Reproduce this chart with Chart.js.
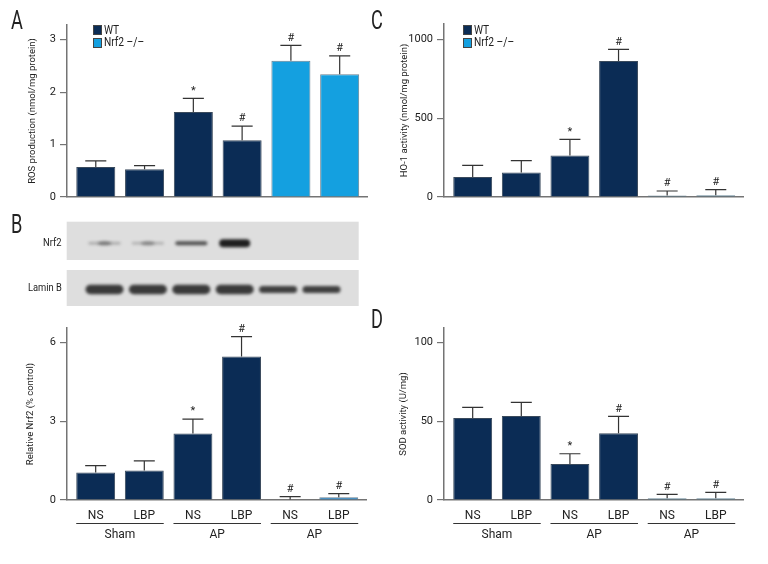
<!DOCTYPE html>
<html><head><meta charset="utf-8">
<script src="https://cdn.jsdelivr.net/npm/chart.js@4/dist/chart.umd.min.js"></script>
<style>
html,body{margin:0;padding:0;background:#fff}
body{width:768px;height:564px;overflow:hidden;position:relative;font-family:Roboto,'Liberation Sans',sans-serif;color:#222}
canvas{position:absolute}
.t{position:absolute;white-space:nowrap;line-height:1}
.let{font-size:26px;transform:scaleX(0.7);transform-origin:0 0}
.lg{position:absolute;font-size:12px;line-height:1;white-space:nowrap;transform:scaleX(0.85);transform-origin:0 0}
.sq{position:absolute;width:7px;height:8px;border:0.5px solid #444}
</style></head>
<body>
<canvas id="cA" width="384" height="210" style="left:0;top:0"></canvas>
<canvas id="cC" width="384" height="210" style="left:384px;top:0"></canvas>
<canvas id="cB" width="384" height="254" style="left:0;top:310px"></canvas>
<canvas id="cD" width="384" height="254" style="left:384px;top:310px"></canvas>
<canvas id="blot" width="294" height="86" style="left:66px;top:221px"></canvas>
<div class="t let" style="left:11px;top:7px">A</div>
<div class="t let" style="left:11px;top:211px">B</div>
<div class="t let" style="left:371px;top:7px">C</div>
<div class="t let" style="left:371px;top:306px">D</div>
<div class="t" style="left:43px;top:237px;font-size:11px;transform:scaleX(0.85);transform-origin:0 0">Nrf2</div>
<div class="t" style="left:28px;top:282px;font-size:11px;transform:scaleX(0.85);transform-origin:0 0">Lamin B</div>
<div id="legA"></div>
<div id="legC"></div>
<script>
// ---------- data ----------
const categories = ['NS', 'LBP', 'NS', 'LBP', 'NS', 'LBP'];
const groups = ['Sham', 'AP', 'AP'];
const genotype = ['WT', 'WT', 'WT', 'WT', 'KO', 'KO'];
const legendLabels = ['WT', 'Nrf2 \u2013/\u2013'];

const rosMean = [0.57, 0.53, 1.62, 1.08, 2.60, 2.34];
const rosErr  = [0.12, 0.07, 0.26, 0.27, 0.29, 0.35];
const rosSig  = ['', '', '*', '#', '#', '#'];

const ho1Mean = [127, 155, 263, 862, 9, 11];
const ho1Err  = [74, 76, 102, 74, 29, 36];
const ho1Sig  = ['', '', '*', '#', '#', '#'];

const nrf2Mean = [1.05, 1.12, 2.53, 5.46, 0.02, 0.10];
const nrf2Err  = [0.26, 0.37, 0.55, 0.76, 0.11, 0.14];
const nrf2Sig  = ['', '', '*', '#', '#', '#'];

const sodMean = [52.1, 53.4, 22.9, 42.4, 1.1, 1.1];
const sodErr  = [6.8, 8.7, 6.5, 10.8, 2.5, 3.8];
const sodSig  = ['', '', '*', '#', '#', '#'];

const rosTicks = [0, 1, 2, 3];
const ho1Ticks = [0, 500, 1000];
const nrf2Ticks = [0, 3, 6];
const sodTicks = [0, 50, 100];
const rosRange = [0, 3.28];
const ho1Range = [0, 1097];
const nrf2Range = [0, 6.55];
const sodRange = [0, 109.3];

const nrf2Band  = [0.4, 0.34, 0.72, 0.97, 0, 0];
const laminBand = [0.88, 0.88, 0.88, 0.88, 0.85, 0.85];

// ---------- styles ----------
const F = "Roboto,'Liberation Sans',sans-serif";
const NAVY = '#0b2c55';
const LIGHT = '#14a0e0';
const STEEL = '#3f7391';
const MID = '#1f78b8';
const AX = '#747474';

const errPlugin = {
  id: 'err',
  afterDatasetsDraw(chart, args, o) {
    const ctx = chart.ctx, ys = chart.scales.y;
    const meta = chart.getDatasetMeta(0);
    meta.data.forEach((el, i) => {
      const m = o.means[i], e = o.errs[i];
      const y0 = ys.getPixelForValue(m), y1 = ys.getPixelForValue(m + e);
      const half = el.width * 0.27;
      ctx.save();
      ctx.strokeStyle = '#333'; ctx.lineWidth = 1.2;
      ctx.beginPath();
      ctx.moveTo(el.x, y0); ctx.lineTo(el.x, y1);
      ctx.moveTo(el.x - half, y1); ctx.lineTo(el.x + half, y1);
      ctx.stroke();
      if (o.sigs[i]) {
        ctx.fillStyle = '#222';
        ctx.font = '11px ' + F;
        ctx.textAlign = 'center'; ctx.textBaseline = 'bottom';
        ctx.fillText(o.sigs[i], el.x, y1 - 2);
      }
      ctx.restore();
    });
  }
};

const groupPlugin = {
  id: 'grp',
  afterDraw(chart, args, o) {
    if (!o.show) return;
    const ctx = chart.ctx;
    const meta = chart.getDatasetMeta(0);
    const yl = chart.chartArea.bottom + 23.5;
    groups.forEach((g, k) => {
      const a = meta.data[2 * k], b = meta.data[2 * k + 1];
      const x1 = a.x - a.width / 2, x2 = b.x + b.width / 2;
      ctx.save();
      ctx.strokeStyle = '#333'; ctx.lineWidth = 1;
      ctx.beginPath(); ctx.moveTo(x1, yl); ctx.lineTo(x2, yl); ctx.stroke();
      ctx.fillStyle = '#222'; ctx.font = '12px ' + F;
      ctx.textAlign = 'center'; ctx.textBaseline = 'middle';
      ctx.fillText(g, (x1 + x2) / 2, yl + 11);
      ctx.restore();
    });
  }
};

function makeChart(id, c) {
  return new Chart(document.getElementById(id), {
    type: 'bar',
    data: {
      datasets: [{
        data: c.means.map((v, i) => ({ x: i, y: v })),
        backgroundColor: genotype.map((g, i) => g === 'WT' ? NAVY : c.koColors[i - 4]),
        borderColor: genotype.map(g => g === 'WT' ? '#3a4a5c' : '#6a8090'),
        borderWidth: 1,
        barPercentage: 0.8,
        categoryPercentage: 1
      }]
    },
    options: {
      responsive: false, animation: false, devicePixelRatio: 1,
      layout: { padding: { left: 0, right: c.padRight, top: c.padTop, bottom: 0 } },
      plugins: {
        legend: { display: false }, tooltip: { enabled: false },
        err: { means: c.means, errs: c.errs, sigs: c.sigs },
        grp: { show: c.showX }
      },
      scales: {
        x: {
          type: 'linear', min: -0.59, max: 5.56, offset: false,
          afterBuildTicks: s => { s.ticks = categories.map((_, i) => ({ value: i })); },
          ticks: { display: c.showX, autoSkip: false, maxRotation: 0, minRotation: 0, padding: 9,
                   font: { family: F, size: 12 }, color: '#222',
                   callback: v => categories[v] },
          grid: { display: false, drawTicks: false, offset: false },
          border: { display: true, color: AX, width: 1.5 },
          afterFit: s => { s.height = c.xHeight; }
        },
        y: {
          min: c.range[0], max: c.range[1],
          afterBuildTicks: s => { s.ticks = c.ticks.map(v => ({ value: v })); },
          ticks: { padding: 4, font: { family: F, size: 11 }, color: '#222', callback: v => String(v) },
          grid: { drawOnChartArea: false, drawTicks: true, tickLength: 7, color: AX, lineWidth: 1.2 },
          border: { display: true, color: AX, width: 1.5 },
          title: { display: true, text: c.title, font: { family: F, size: 9.5 }, color: '#222',
                   padding: { top: c.titlePad, bottom: 0 } },
          afterFit: s => { s.width = c.yWidth; }
        }
      }
    },
    plugins: [errPlugin, groupPlugin]
  });
}

makeChart('cA', { means: rosMean, errs: rosErr, sigs: rosSig, koColors: [LIGHT, LIGHT], range: rosRange, ticks: rosTicks,
  title: 'ROS production (nmol/mg protein)', titlePad: 27, yWidth: 67, padRight: 17, padTop: 25, xHeight: 13, showX: false });
makeChart('cC', { means: ho1Mean, errs: ho1Err, sigs: ho1Sig, koColors: [STEEL, STEEL], range: ho1Range, ticks: ho1Ticks,
  title: 'HO-1 activity (nmol/mg protein)', titlePad: 15, yWidth: 60, padRight: 25, padTop: 24, xHeight: 13, showX: false });
makeChart('cB', { means: nrf2Mean, errs: nrf2Err, sigs: nrf2Sig, koColors: [MID, MID], range: nrf2Range, ticks: nrf2Ticks,
  title: 'Relative Nrf2 (% control)', titlePad: 25, yWidth: 67, padRight: 18, padTop: 18, xHeight: 64, showX: true });
makeChart('cD', { means: sodMean, errs: sodErr, sigs: sodSig, koColors: [STEEL, STEEL], range: sodRange, ticks: sodTicks,
  title: 'SOD activity (U/mg)', titlePad: 14, yWidth: 60, padRight: 25, padTop: 18, xHeight: 64, showX: true });

// ---------- legends ----------
function legend(id, left, top) {
  const el = document.getElementById(id);
  const cols = [NAVY, LIGHT];
  legendLabels.forEach((t, i) => {
    const y = top + i * 12.5;
    el.insertAdjacentHTML('beforeend',
      `<div class="sq" style="left:${left}px;top:${y}px;background:${cols[i]}"></div>` +
      `<div class="lg" style="left:${left + 11}px;top:${y - 1.5}px">${t}</div>`);
  });
}
legend('legA', 93, 25);
legend('legC', 463, 25);

// ---------- western blot ----------
(function () {
  const cv = document.getElementById('blot');
  const ctx = cv.getContext('2d');
  ctx.fillStyle = '#dedede';
  ctx.fillRect(0.7, 0.7, 292, 38.3);
  ctx.fillRect(0.7, 49, 292, 36);
  const lane0 = 38.5, step = 43.4;
  ctx.filter = 'blur(1.4px)';
  nrf2Band.forEach((a, i) => {
    if (!a) return;
    const cx = lane0 + i * step;
    const h = i === 3 ? 8 : (i === 2 ? 4 : 2.5);
    const w = i === 3 ? 31 : 32;
    ctx.fillStyle = `rgba(25,25,25,${a * (i < 2 ? 0.7 : 1)})`;
    ctx.beginPath();
    ctx.roundRect(cx - w / 2, 22.3 - h / 2, w, h, h / 2);
    ctx.fill();
    if (i < 2) {
      ctx.fillStyle = `rgba(25,25,25,${a})`;
      ctx.beginPath();
      ctx.ellipse(cx, 22.3, 7, 2, 0, 0, Math.PI * 2);
      ctx.fill();
    }
  });
  laminBand.forEach((a, i) => {
    const cx = lane0 + i * step;
    const h = i >= 4 ? 7 : 9.5;
    ctx.fillStyle = `rgba(35,35,35,${a})`;
    ctx.beginPath();
    ctx.roundRect(cx - 19, 68.5 - h / 2, 38, h, h / 2);
    ctx.fill();
  });
  ctx.filter = 'none';
})();
</script>
</body></html>
